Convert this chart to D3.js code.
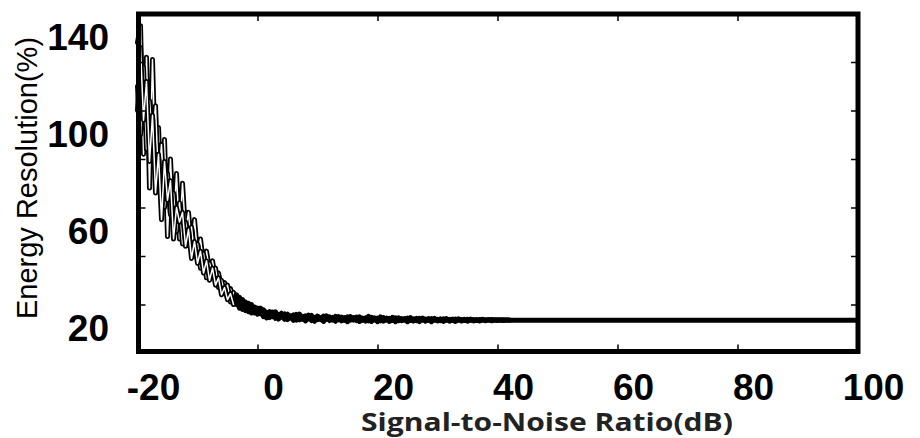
<!DOCTYPE html>
<html>
<head>
<meta charset="utf-8">
<script src="https://cdn.jsdelivr.net/npm/d3@7"></script>
<style>
  body { margin: 0; background: #fff; }
  svg { display: block; }
</style>
</head>
<body>
<div id="chart"></div>
<script>

var width = 920, height = 438

// SNR (dB) sample points of the noisy part of the curves
var snr = [-20, -19.5, -19, -18.5, -18, -17.5, -17, -16.5, -16, -15.5,
  -15, -14.5, -14, -13.5, -13, -12.5, -12, -11.5, -11, -10.5,
  -10, -9.5, -9, -8.5, -8, -7.5, -7, -6.5, -6, -5.5,
  -5, -4.5, -4, -3.5, -3, -2.5, -2, -1.5, -1, -0.5,
  0, 0.5, 1, 1.5, 2, 2.5, 3, 3.5, 4, 4.5,
  5, 5.5, 6, 6.5, 7, 7.5, 8, 8.5, 9, 9.5,
  10, 10.5, 11, 11.5, 12, 12.5, 13, 13.5, 14, 14.5,
  15, 15.5, 16, 16.5, 17, 17.5, 18, 18.5, 19, 19.5,
  20, 20.5, 21, 21.5, 22, 22.5, 23, 23.5, 24, 24.5,
  25, 25.5, 26, 26.5, 27, 27.5, 28, 28.5, 29, 29.5,
  30, 30.5, 31, 31.5, 32, 32.5, 33, 33.5, 34, 34.5,
  35, 35.5, 36, 36.5, 37, 37.5, 38, 38.5, 39, 39.5,
  40, 40.5, 41, 41.5, 42]

// energy resolution (%), several overlapping runs
var runA = [128, 135, 82, 122, 68, 121, 75, 93, 62, 88,
  48, 80, 52, 74, 47, 70, 50, 58, 43, 55,
  41, 47, 37, 42, 34, 38, 30, 33, 27, 29,
  25, 26.5, 22.5, 24, 21, 22, 19.5, 20.5, 18.5, 19,
  17.5, 16.2, 17.8, 15.9, 17, 15.4, 16.6, 15.1, 16.4, 14.8,
  16, 14.6, 15.7, 14.4, 15.8, 14.2, 15.3, 14.1, 15.5, 13.9,
  15, 13.8, 15.2, 13.9, 14.9, 13.6, 15.1, 13.7, 14.8, 13.5,
  14.9, 13.6, 14.6, 13.4, 14.9, 13.5, 14.5, 13.3, 14.7, 13.6,
  14.4, 13.3, 14.6, 13.5, 14.3, 13.4, 14.5, 13.3, 14.2, 13.5,
  14.4, 13.4, 14.1, 13.3, 14.3, 13.5, 14, 13.4, 14.2, 13.5,
  13.9, 13.3, 14.1, 13.5, 13.9, 13.4, 14, 13.5, 13.8, 13.4,
  13.9, 13.5, 13.8, 13.4, 13.8, 13.5, 13.7, 13.5, 13.8, 13.5,
  13.7, 13.5, 13.7, 13.6, 13.6]

var runB = [110, 90, 118, 84, 104, 88, 102, 70, 86, 60,
  74, 57, 66, 50, 62, 45, 54, 48, 52, 40,
  45, 35, 41, 31, 37, 33, 35, 27, 30, 25,
  28, 21, 25, 20, 23, 18, 21, 17, 20, 16.5,
  18.5, 17.5, 15, 16.8, 14.6, 16.9, 14.3, 15.8, 15.5, 13.9,
  15.6, 14.9, 13.5, 15.9, 13.7, 15.1, 13.2, 15.4, 14.6, 13.1,
  15.2, 14.5, 13, 15.3, 13.4, 14.7, 13.1, 15, 13.3, 14.6,
  12.9, 15, 13.6, 14.8, 13, 14.4, 13.2, 15.1, 13, 14.5,
  12.9, 14.9, 13.2, 14.4, 13, 14.7, 12.9, 14.5, 13.3, 14.2,
  12.9, 14.6, 13.2, 14.3, 13, 14.4, 13.1, 14.2, 12.9, 14.3,
  13.2, 14.1, 13, 14.2, 13.1, 14, 13, 14.1, 13.2, 13.9,
  13.1, 14, 13.2, 13.8, 13.2, 13.9, 13.3, 13.8, 13.3, 13.7,
  13.4, 13.7, 13.4, 13.6, 13.5]

// third run only covers -20 .. 10 dB
var runC = [100, 126, 96, 112, 79, 98, 66, 82, 55, 79,
  63, 71, 47, 60, 54, 58, 44, 51, 39, 46,
  37, 42, 33, 38, 30, 35, 28, 31, 24, 27,
  22, 24.5, 20, 22.5, 18.5, 20.5, 17.5, 19.5, 16.5, 18,
  16, 18.5, 16.4, 14.5, 16.2, 15, 17, 14, 15.2, 16.1,
  13.8, 15.3, 14.9, 13.6, 16, 13.9, 14.4, 15.6, 13.4, 14.7,
  13.8]

// flat part at high SNR
var flatSnr = [42, 100]
var flatResolution = [13.5, 13.5]

var xTicks = [-20, 0, 20, 40, 60, 80, 100]
var yTicks = [20, 40, 60, 80, 100, 120]
var yLabels = [20, 60, 100, 140]

var svg = d3.select("#chart")
  .append("svg")
  .attr("width", width)
  .attr("height", height)

var x = d3.scaleLinear()
  .domain([-20, 100])
  .range([137.5, 857.5])

var y = d3.scaleLinear()
  .domain([0, 140])
  .range([353, 13.5])

var frame = { left: 138.5, right: 858, top: 14, bottom: 351.5 }

var runs = [runA, runB, runC].map(function(run) {
  return run.map(function(v, i) { return [snr[i], v] })
})
var flat = flatSnr.map(function(d, i) { return [d, flatResolution[i]] })

var line = d3.line()
  .x(function(d) { return x(d[0]) })
  .y(function(d) { return y(d[1]) })

// each run: thick black outline with a white core where it swings (tube look)
runs.forEach(function(points) {
  svg.append("path")
    .datum(points)
    .attr("d", line)
    .attr("fill", "none")
    .attr("stroke", "#000")
    .attr("stroke-width", 5)
    .attr("stroke-linejoin", "round")
    .attr("stroke-linecap", "round")

  svg.append("path")
    .datum(points.filter(function(d) { return d[0] <= -4 }))
    .attr("d", line)
    .attr("fill", "none")
    .attr("stroke", "#fff")
    .attr("stroke-width", 1.5)
    .attr("stroke-linejoin", "round")
    .attr("stroke-linecap", "round")
})

svg.append("path")
  .datum(flat)
  .attr("d", line)
  .attr("fill", "none")
  .attr("stroke", "#000")
  .attr("stroke-width", 5)

// inward ticks on all four sides
var inner = [0, 20, 40, 60, 80]

svg.append("g")
  .attr("class", "axis")
  .attr("transform", "translate(0," + frame.bottom + ")")
  .call(d3.axisBottom(x).tickValues(inner).tickSize(-7).tickFormat(""))

svg.append("g")
  .attr("class", "axis")
  .attr("transform", "translate(0," + frame.top + ")")
  .call(d3.axisTop(x).tickValues(inner).tickSize(-7).tickFormat(""))

svg.append("g")
  .attr("class", "axis")
  .attr("transform", "translate(" + frame.left + ",0)")
  .call(d3.axisLeft(y).tickValues(yTicks).tickSize(-7).tickFormat(""))

svg.append("g")
  .attr("class", "axis")
  .attr("transform", "translate(" + frame.right + ",0)")
  .call(d3.axisRight(y).tickValues(yTicks).tickSize(-7).tickFormat(""))

svg.selectAll(".axis .domain").remove()
svg.selectAll(".axis .tick line")
  .attr("stroke", "#000")
  .attr("stroke-width", 1.5)

// frame
svg.append("rect")
  .attr("x", frame.left)
  .attr("y", frame.top)
  .attr("width", frame.right - frame.left)
  .attr("height", frame.bottom - frame.top)
  .attr("fill", "none")
  .attr("stroke", "#000")
  .attr("stroke-width", 5)

// tick labels
svg.selectAll(".xlabel")
  .data(xTicks)
  .enter().append("text")
  .attr("class", "xlabel")
  .attr("x", function(d) { return x(d) + 16 })
  .attr("y", 400)
  .attr("text-anchor", "middle")
  .style("font-family", "'Liberation Sans', Arial, sans-serif")
  .style("font-weight", "bold")
  .style("font-size", "37px")
  .text(function(d) { return d })

svg.selectAll(".ylabel")
  .data(yLabels)
  .enter().append("text")
  .attr("class", "ylabel")
  .attr("x", 109)
  .attr("y", function(d) { return y(d) + 36.5 })
  .attr("text-anchor", "end")
  .style("font-family", "'Liberation Sans', Arial, sans-serif")
  .style("font-weight", "bold")
  .style("font-size", "37px")
  .text(function(d) { return d })

// axis titles
svg.append("text")
  .attr("x", 547)
  .attr("y", 431)
  .attr("text-anchor", "middle")
  .attr("textLength", 372)
  .attr("lengthAdjust", "spacingAndGlyphs")
  .style("font-family", "'Open Sans', sans-serif")
  .style("font-weight", "bold")
  .style("font-size", "25px")
  .style("fill", "#222")
  .text("Signal-to-Noise Ratio(dB)")

svg.append("text")
  .attr("transform", "translate(37,178) rotate(-90)")
  .attr("text-anchor", "middle")
  .style("font-family", "'Liberation Sans', Arial, sans-serif")
  .style("font-size", "29px")
  .text("Energy Resolution(%)")

</script>
</body>
</html>
